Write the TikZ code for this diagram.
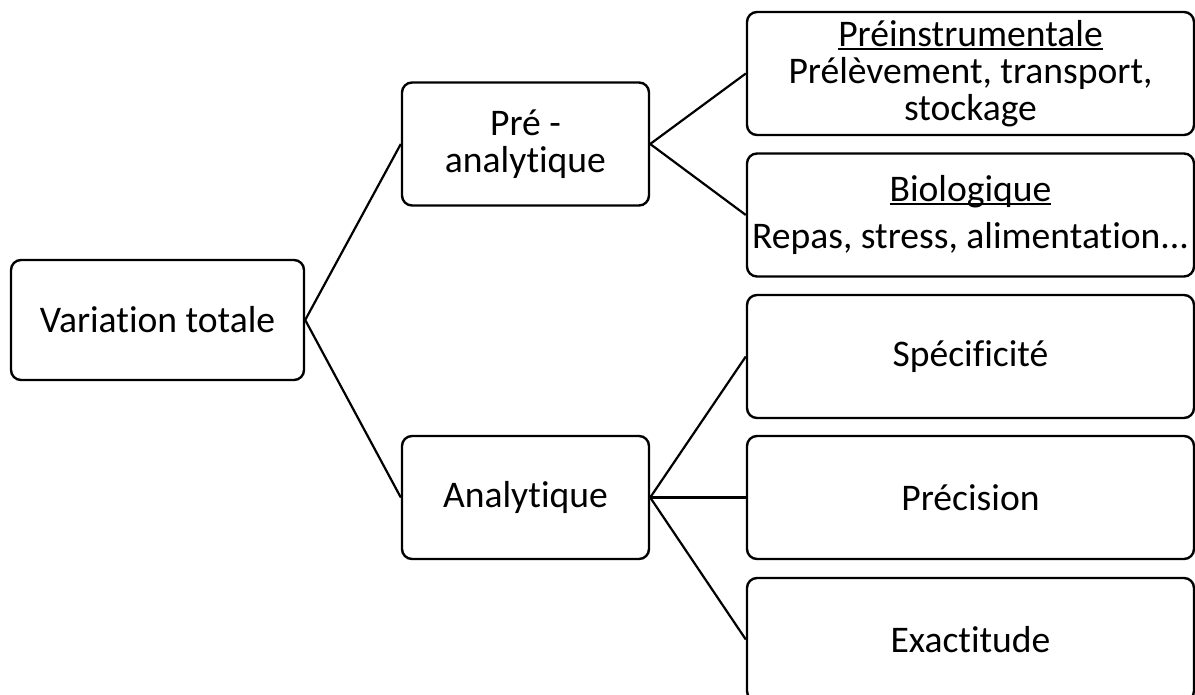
\documentclass[tikz,border=0pt]{standalone}
\usepackage{fontspec}
\setmainfont[Ligatures={NoCommon}]{Carlito}
\newcommand\ulx[1]{\setbox0\hbox{#1}\rlap{\rule[-1.7pt]{\wd0}{0.9pt}}\box0}
\tikzset{
  box/.style={draw=black, line width=1.2pt, rounded corners=5pt, inner sep=0pt, align=center,
    font=\fontsize{18.8}{18.6}\selectfont},
  leftbox/.style={box, minimum width=146.5pt, minimum height=60pt},
  midbox/.style={box, minimum width=123.5pt, minimum height=61.5pt},
  rightbox/.style={box, minimum width=223.5pt, minimum height=61.5pt},
  link/.style={draw=black, line width=1.1pt}
}
\begin{document}
\begin{tikzpicture}[x=0.5pt, y=-0.5pt]
\useasboundingbox (0,0) rectangle (1195,695);
\clip (0,0) rectangle (1195,695);
\node[leftbox] (V) at (157.5,320) {Variation totale};
\node[midbox] (P) at (525.5,144) {Pré -\\analytique};
\node[midbox] (A) at (525.5,497.5) {Analytique};
\node[rightbox] (R1) at (970.5,73.5) {\ulx{Préinstrumentale}\\Prélèvement, transport,\\stockage};
\node[rightbox] (R2) at (970.5,215) {\ulx{Biologique}\\[5pt]Repas, stress, alimentation.{}.{}.};
\node[rightbox] (R3) at (970.5,356.5) {Spécificité};
\node[rightbox] (R4) at (970.5,497.5) {Précision};
\node[rightbox] (R5) at (970.5,639.5) {Exactitude};
\draw[link] (P.west) -- (V.east) -- (A.west);
\draw[link] (R1.west) -- (P.east) -- (R2.west);
\draw[link] (R3.west) -- (A.east) -- (R5.west);
\draw[link] (A.east) -- (R4.west);
\end{tikzpicture}
\end{document}
